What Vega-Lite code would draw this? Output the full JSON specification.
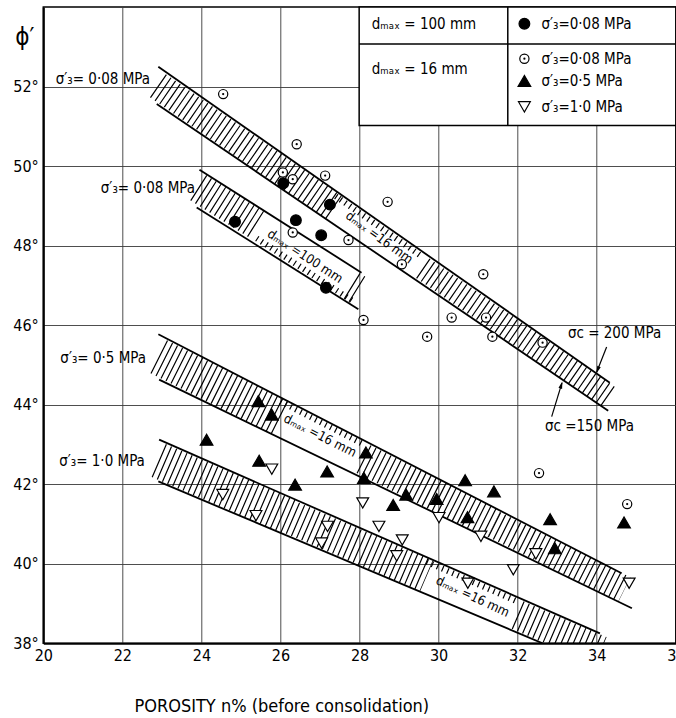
{
  "$schema": "https://vega.github.io/schema/vega-lite/v6.json",
  "description": "Friction angle against porosity, with hatched bands for three confining stresses",
  "width": 632.5,
  "height": 636.3,
  "autosize": "none",
  "padding": {"left": 43.3, "top": 7, "right": 0.2, "bottom": 74.7},
  "datasets": {
    "obs": [
      {"series": "c16", "n": 24.55, "phi": 51.81},
      {"series": "c16", "n": 26.41, "phi": 50.55},
      {"series": "c16", "n": 26.06, "phi": 49.84},
      {"series": "c16", "n": 26.31, "phi": 49.67},
      {"series": "c16", "n": 27.13, "phi": 49.76},
      {"series": "c16", "n": 26.31, "phi": 48.33},
      {"series": "c16", "n": 27.72, "phi": 48.14},
      {"series": "c16", "n": 28.71, "phi": 49.10},
      {"series": "c16", "n": 29.07, "phi": 47.53},
      {"series": "c16", "n": 31.13, "phi": 47.28},
      {"series": "c16", "n": 28.10, "phi": 46.13},
      {"series": "c16", "n": 30.33, "phi": 46.19},
      {"series": "c16", "n": 31.20, "phi": 46.19},
      {"series": "c16", "n": 29.71, "phi": 45.71},
      {"series": "c16", "n": 31.36, "phi": 45.71},
      {"series": "c16", "n": 32.63, "phi": 45.56},
      {"series": "c16", "n": 32.54, "phi": 42.28},
      {"series": "c16", "n": 34.77, "phi": 41.50},
      {"series": "c100", "n": 24.85, "phi": 48.60},
      {"series": "c100", "n": 26.07, "phi": 49.57},
      {"series": "c100", "n": 26.39, "phi": 48.64},
      {"series": "c100", "n": 27.03, "phi": 48.26},
      {"series": "c100", "n": 27.25, "phi": 49.03},
      {"series": "c100", "n": 27.15, "phi": 46.94},
      {"series": "t05", "n": 24.13, "phi": 43.12},
      {"series": "t05", "n": 25.44, "phi": 44.09},
      {"series": "t05", "n": 25.78, "phi": 43.75},
      {"series": "t05", "n": 25.46, "phi": 42.59},
      {"series": "t05", "n": 26.37, "phi": 41.99},
      {"series": "t05", "n": 27.18, "phi": 42.32},
      {"series": "t05", "n": 28.16, "phi": 42.80},
      {"series": "t05", "n": 28.11, "phi": 42.16},
      {"series": "t05", "n": 29.18, "phi": 41.74},
      {"series": "t05", "n": 28.85, "phi": 41.48},
      {"series": "t05", "n": 29.95, "phi": 41.63},
      {"series": "t05", "n": 30.67, "phi": 42.10},
      {"series": "t05", "n": 31.40, "phi": 41.82},
      {"series": "t05", "n": 30.73, "phi": 41.17},
      {"series": "t05", "n": 32.82, "phi": 41.12},
      {"series": "t05", "n": 32.94, "phi": 40.39},
      {"series": "t05", "n": 34.69, "phi": 41.04},
      {"series": "t10", "n": 25.78, "phi": 42.38},
      {"series": "t10", "n": 24.54, "phi": 41.74},
      {"series": "t10", "n": 25.38, "phi": 41.21},
      {"series": "t10", "n": 27.19, "phi": 40.94},
      {"series": "t10", "n": 27.04, "phi": 40.52},
      {"series": "t10", "n": 28.08, "phi": 41.53},
      {"series": "t10", "n": 28.49, "phi": 40.94},
      {"series": "t10", "n": 29.08, "phi": 40.60},
      {"series": "t10", "n": 28.94, "phi": 40.20},
      {"series": "t10", "n": 30.01, "phi": 41.16},
      {"series": "t10", "n": 31.07, "phi": 40.69},
      {"series": "t10", "n": 30.74, "phi": 39.51},
      {"series": "t10", "n": 31.89, "phi": 39.85},
      {"series": "t10", "n": 32.46, "phi": 40.25},
      {"series": "t10", "n": 34.82, "phi": 39.51}
    ],
    "edges": [
      {"edge": "e1u", "n": 22.91, "phi": 52.50}, {"edge": "e1u", "n": 34.33, "phi": 44.55},
      {"edge": "e1l", "n": 22.87, "phi": 51.56}, {"edge": "e1l", "n": 34.29, "phi": 43.85},
      {"edge": "e2u", "n": 23.95, "phi": 49.91}, {"edge": "e2u", "n": 28.05, "phi": 47.32},
      {"edge": "e2l", "n": 23.88, "phi": 48.96}, {"edge": "e2l", "n": 27.97, "phi": 46.40},
      {"edge": "e3u", "n": 22.91, "phi": 45.77}, {"edge": "e3u", "n": 34.63, "phi": 39.76},
      {"edge": "e3l", "n": 22.93, "phi": 44.63}, {"edge": "e3l", "n": 34.89, "phi": 38.88},
      {"edge": "e4u", "n": 22.93, "phi": 43.12}, {"edge": "e4u", "n": 34.08, "phi": 38.25},
      {"edge": "e4l", "n": 22.91, "phi": 42.07}, {"edge": "e4l", "n": 32.63, "phi": 38.00}
    ],
    "hatch": [
      {"seg": "b1a", "n": 22.9, "phi": 52.02}, {"seg": "b1a", "n": 27.4, "phi": 48.93},
      {"seg": "b1t", "n": 27.4, "phi": 49.24}, {"seg": "b1t", "n": 29.6, "phi": 47.71},
      {"seg": "b1b", "n": 29.6, "phi": 47.43}, {"seg": "b1b", "n": 34.3, "phi": 44.20},
      {"seg": "b2a", "n": 23.92, "phi": 49.457}, {"seg": "b2a", "n": 25.4, "phi": 48.526},
      {"seg": "b2t", "n": 25.4, "phi": 48.18}, {"seg": "b2t", "n": 27.8, "phi": 46.625},
      {"seg": "b2b", "n": 27.8, "phi": 46.99}, {"seg": "b2b", "n": 28.02, "phi": 46.855},
      {"seg": "b3a", "n": 22.92, "phi": 45.205}, {"seg": "b3a", "n": 26.0, "phi": 43.675},
      {"seg": "b3t", "n": 26.0, "phi": 44.08}, {"seg": "b3t", "n": 28.1, "phi": 43.006},
      {"seg": "b3b", "n": 28.1, "phi": 42.63}, {"seg": "b3b", "n": 31.4, "phi": 40.99},
      {"seg": "b3c", "n": 31.4, "phi": 40.99}, {"seg": "b3c", "n": 34.7, "phi": 39.35},
      {"seg": "b4a", "n": 22.92, "phi": 42.595}, {"seg": "b4a", "n": 26.3, "phi": 41.149},
      {"seg": "b4b", "n": 26.3, "phi": 41.149}, {"seg": "b4b", "n": 29.7, "phi": 39.694},
      {"seg": "b4t", "n": 29.7, "phi": 40.05}, {"seg": "b4t", "n": 32.0, "phi": 39.046},
      {"seg": "b4c", "n": 32.0, "phi": 38.71}, {"seg": "b4c", "n": 34.1, "phi": 37.81}
    ],
    "stressLabels": [
      {"n": 22.70, "phi": 52.19, "label": "σ′₃= 0·08 MPa"},
      {"n": 23.84, "phi": 49.44, "label": "σ′₃= 0·08 MPa"},
      {"n": 22.60, "phi": 45.18, "label": "σ′₃= 0·5 MPa"},
      {"n": 22.57, "phi": 42.58, "label": "σ′₃= 1·0 MPa"}
    ],
    "strengthLabels": [
      {"n": 33.27, "phi": 45.81, "label": "σc = 200 MPa"},
      {"n": 32.69, "phi": 43.46, "label": "σc =150 MPa"}
    ],
    "arrows": [
      {"n": 34.25, "phi": 45.45, "n2": 34.0, "phi2": 44.82},
      {"n": 32.86, "phi": 43.70, "n2": 33.12, "phi2": 44.55}
    ],
    "key": [
      {"series": "c100", "n": 32.17, "phi": 53.58, "label": "σ′₃=0·08 MPa"},
      {"series": "c16", "n": 32.17, "phi": 52.70, "label": "σ′₃=0·08 MPa"},
      {"series": "t05", "n": 32.17, "phi": 52.14, "label": "σ′₃=0·5 MPa"},
      {"series": "t10", "n": 32.17, "phi": 51.49, "label": "σ′₃=1·0 MPa"}
    ],
    "keyHead": [
      {"n": 28.31, "phi": 53.58, "label": "dₘₐₓ = 100 mm"},
      {"n": 28.31, "phi": 52.44, "label": "dₘₐₓ = 16 mm"}
    ],
    "keyBox": [
      {"n": 27.99, "n2": 36, "phi": 51.02, "phi2": 54}
    ],
    "keyRules": [
      {"n": 27.99, "n2": 36, "phi": 53.07, "phi2": 53.07},
      {"n": 31.75, "n2": 31.75, "phi": 51.02, "phi2": 54}
    ]
  },
  "encoding": {
    "x": {
      "field": "n",
      "type": "quantitative",
      "scale": {"domain": [20, 36], "nice": false, "zero": false},
      "axis": {
        "values": [20, 22, 24, 26, 28, 30, 32, 34, 36],
        "grid": true,
        "ticks": false,
        "labelFlush": false,
        "labelOverlap": false,
        "labelFontSize": 16,
        "labelPadding": 4,
        "title": "POROSITY n% (before consolidation)",
        "titleFontSize": 18,
        "titleFontWeight": "normal",
        "titleX": 238,
        "titleY": 63,
        "titleAlign": "center",
        "titleBaseline": "middle"
      }
    },
    "y": {
      "field": "phi",
      "type": "quantitative",
      "scale": {"domain": [38, 54], "nice": false, "zero": false},
      "axis": {
        "values": [38, 40, 42, 44, 46, 48, 50, 52],
        "labelExpr": "datum.value + '°'",
        "grid": true,
        "ticks": false,
        "labelFlush": false,
        "labelOverlap": false,
        "labelFontSize": 16,
        "labelPadding": 5,
        "title": "ϕ′",
        "titleAngle": 0,
        "titleX": -19,
        "titleY": 30,
        "titleFontSize": 24,
        "titleFontWeight": "normal",
        "titleAlign": "center",
        "titleBaseline": "middle"
      }
    }
  },
  "layer": [
    {
      "data": {"name": "hatch"},
      "mark": {"type": "line", "color": "black", "strokeDash": [1.2, 4.4], "strokeCap": "butt", "clip": true},
      "encoding": {
        "detail": {"field": "seg"},
        "strokeWidth": {
          "field": "seg",
          "type": "ordinal",
          "scale": {
            "type": "ordinal",
            "domain": ["b1a", "b1t", "b1b", "b2a", "b2t", "b2b", "b3a", "b3t", "b3b", "b3c", "b4a", "b4b", "b4t", "b4c"],
            "range": [28, 6, 23.5, 30, 6, 30, 37, 6, 31, 27.5, 36, 33.5, 6, 30]
          },
          "legend": null
        }
      }
    },
    {
      "data": {"name": "edges"},
      "mark": {"type": "line", "color": "black", "strokeWidth": 1.8, "clip": true},
      "encoding": {"detail": {"field": "edge"}}
    },
    {
      "data": {"name": "stressLabels"},
      "mark": {"type": "text", "align": "right", "baseline": "middle", "fontSize": 15},
      "encoding": {"text": {"field": "label"}}
    },
    {
      "data": {"name": "strengthLabels"},
      "mark": {"type": "text", "align": "left", "baseline": "middle", "fontSize": 15},
      "encoding": {"text": {"field": "label"}}
    },
    {
      "data": {"values": [{"n": 28.5, "phi": 48.2, "label": "dₘₐₓ =16 mm"}]},
      "mark": {"type": "text", "angle": 36, "fontSize": 13, "baseline": "middle"},
      "encoding": {"text": {"field": "label"}}
    },
    {
      "data": {"values": [{"n": 26.62, "phi": 47.73, "label": "dₘₐₓ =100 mm"}]},
      "mark": {"type": "text", "angle": 33, "fontSize": 13, "baseline": "middle"},
      "encoding": {"text": {"field": "label"}}
    },
    {
      "data": {"values": [{"n": 27.0, "phi": 43.22, "label": "dₘₐₓ =16 mm"}]},
      "mark": {"type": "text", "angle": 27, "fontSize": 13, "baseline": "middle"},
      "encoding": {"text": {"field": "label"}}
    },
    {
      "data": {"values": [{"n": 30.86, "phi": 39.17, "label": "dₘₐₓ =16 mm"}]},
      "mark": {"type": "text", "angle": 25, "fontSize": 13, "baseline": "middle"},
      "encoding": {"text": {"field": "label"}}
    },
    {
      "data": {"name": "arrows"},
      "mark": {"type": "rule", "color": "black", "strokeWidth": 1.2},
      "encoding": {"x2": {"field": "n2"}, "y2": {"field": "phi2"}}
    },
    {
      "data": {"values": [{"n": 34.03, "phi": 44.89}]},
      "mark": {"type": "point", "shape": "M0,-1L0.45,0.7L-0.45,0.7Z", "filled": true, "color": "black", "size": 70, "angle": 202, "opacity": 1},
      "encoding": {}
    },
    {
      "data": {"values": [{"n": 33.10, "phi": 44.48}]},
      "mark": {"type": "point", "shape": "M0,-1L0.45,0.7L-0.45,0.7Z", "filled": true, "color": "black", "size": 70, "angle": 17, "opacity": 1},
      "encoding": {}
    },
    {
      "data": {"name": "obs"},
      "layer": [
        {
          "mark": {"type": "point", "filled": true, "stroke": "black", "strokeWidth": 1.2, "opacity": 1},
          "encoding": {
            "shape": {"field": "series", "type": "nominal", "scale": {"domain": ["c100", "c16", "t05", "t10"], "range": ["circle", "circle", "triangle-up", "triangle-down"]}, "legend": null},
            "fill": {"field": "series", "type": "nominal", "scale": {"domain": ["c100", "c16", "t05", "t10"], "range": ["black", "white", "black", "white"]}, "legend": null},
            "size": {"field": "series", "type": "nominal", "scale": {"type": "ordinal", "domain": ["c100", "c16", "t05", "t10"], "range": [115, 85, 160, 140]}, "legend": null}
          }
        },
        {
          "transform": [{"filter": "datum.series === 'c16'"}],
          "mark": {"type": "circle", "color": "black", "size": 5, "opacity": 1},
          "encoding": {}
        }
      ]
    },
    {
      "data": {"name": "keyBox"},
      "mark": {"type": "rect", "fill": "white", "stroke": "black", "strokeWidth": 1.5},
      "encoding": {"x2": {"field": "n2"}, "y2": {"field": "phi2"}}
    },
    {
      "data": {"name": "keyRules"},
      "mark": {"type": "rule", "color": "black", "strokeWidth": 1.5},
      "encoding": {"x2": {"field": "n2"}, "y2": {"field": "phi2"}}
    },
    {
      "data": {"name": "keyHead"},
      "mark": {"type": "text", "align": "left", "baseline": "middle", "fontSize": 15},
      "encoding": {"text": {"field": "label"}}
    },
    {
      "data": {"name": "key"},
      "layer": [
        {
          "mark": {"type": "point", "filled": true, "stroke": "black", "strokeWidth": 1.2, "opacity": 1},
          "encoding": {
            "shape": {"field": "series", "type": "nominal", "scale": {"domain": ["c100", "c16", "t05", "t10"], "range": ["circle", "circle", "triangle-up", "triangle-down"]}, "legend": null},
            "fill": {"field": "series", "type": "nominal", "scale": {"domain": ["c100", "c16", "t05", "t10"], "range": ["black", "white", "black", "white"]}, "legend": null},
            "size": {"field": "series", "type": "nominal", "scale": {"type": "ordinal", "domain": ["c100", "c16", "t05", "t10"], "range": [115, 85, 160, 140]}, "legend": null}
          }
        },
        {
          "transform": [{"filter": "datum.series === 'c16'"}],
          "mark": {"type": "circle", "color": "black", "size": 5, "opacity": 1},
          "encoding": {}
        },
        {
          "mark": {"type": "text", "align": "left", "baseline": "middle", "dx": 17, "fontSize": 15},
          "encoding": {"text": {"field": "label"}}
        }
      ]
    }
  ],
  "config": {
    "font": "'DejaVu Sans Condensed', 'Liberation Sans Narrow', 'DejaVu Sans', sans-serif",
    "view": {"stroke": "black", "strokeWidth": 1.5},
    "axis": {
      "domainColor": "black",
      "domainWidth": 2,
      "gridColor": "#3a3a3a",
      "gridWidth": 0.9,
      "gridOpacity": 1,
      "labelColor": "black",
      "titleColor": "black"
    },
    "text": {"color": "black"}
  }
}
